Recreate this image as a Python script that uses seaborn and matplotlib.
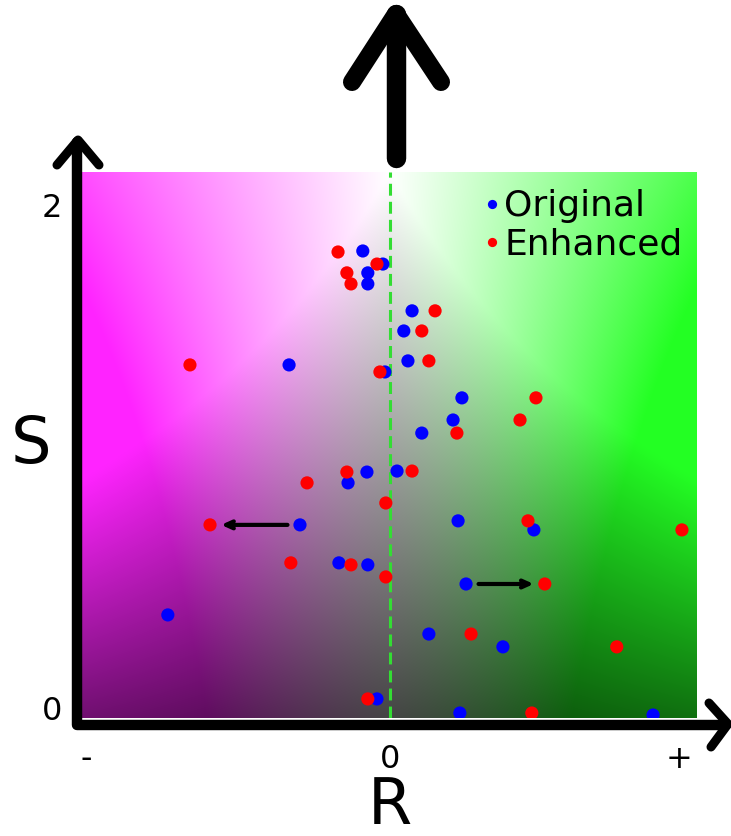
import numpy as np
import pandas as pd
import matplotlib
matplotlib.use("Agg")
import matplotlib.pyplot as plt
from matplotlib.colors import hsv_to_rgb
from matplotlib.lines import Line2D
import seaborn as sns

sns.set_style("white")
plt.rcParams['font.family'] = ['DejaVu Sans']
plt.rcParams['text.color'] = 'black'
plt.rcParams['axes.labelcolor'] = 'black'
plt.rcParams['xtick.color'] = 'black'
plt.rcParams['ytick.color'] = 'black'

# ---- data ----
orig_R = [-0.092, -0.024, -0.075, -0.075, -0.342, -0.017, 0.075, 0.047, 0.061, 0.244,
          0.214, 0.108, -0.078, 0.024, -0.142, -0.305, -0.173, -0.075, -0.753, -0.044,
          0.231, 0.488, 0.258, 0.132, 0.383, 0.237, 0.892]
orig_S = [1.817, 1.765, 1.730, 1.686, 1.364, 1.336, 1.579, 1.499, 1.380, 1.233,
          1.145, 1.093, 0.938, 0.942, 0.895, 0.728, 0.577, 0.569, 0.370, 0.036,
          0.744, 0.708, 0.493, 0.294, 0.243, -0.020, -0.028]
enh_R = [-0.176, -0.044, -0.146, -0.132, -0.678, -0.034, 0.153, 0.108, 0.132, 0.495,
         0.441, 0.227, -0.146, 0.075, -0.281, -0.014, -0.610, -0.336, -0.132, -0.014,
         -0.075, 0.468, 0.990, 0.525, 0.275, 0.769, 0.481]
enh_S = [1.813, 1.765, 1.730, 1.686, 1.364, 1.336, 1.579, 1.499, 1.380, 1.233,
         1.145, 1.093, 0.938, 0.942, 0.895, 0.815, 0.728, 0.577, 0.569, 0.521,
         0.036, 0.744, 0.708, 0.493, 0.294, 0.243, -0.020]
series_names = ["Original", "Enhanced"]
x_tick_pos = [-1.03, 0.0, 0.98]
x_tick_labels = ["-", "0", "+"]
y_tick_pos = [0, 2]
y_tick_labels = ["0", "2"]
# pairs highlighted by arrows: (index in original, index in enhanced)
arrow_pairs = [(15, 16), (22, 23)]

df = pd.DataFrame({
    "R": orig_R + enh_R,
    "S": orig_S + enh_S,
    "kind": [series_names[0]] * len(orig_R) + [series_names[1]] * len(enh_R),
})

W, H = 731, 836
fig = plt.figure(figsize=(W / 100, H / 100), dpi=100)
ax = fig.add_axes([82 / W, (H - 718) / H, (697 - 82) / W, (718 - 172) / H])
xlim = (-1.044, 1.041)
ylim = (-0.0398, 2.131)

# background gradient
nx, ny = 500, 500
X, Y = np.meshgrid(np.linspace(xlim[0], xlim[1], nx), np.linspace(ylim[0], ylim[1], ny))
t = np.where(X < 0, -X / -xlim[0], X / xlim[1])
v = (Y - ylim[0]) / (ylim[1] - ylim[0])
sat = np.clip(t * (1.45 - 0.75 * v), 0, 0.86)
val = np.clip((0.27 + 0.17 * t) + (0.73 + 0.55 * t) * v, 0, 1)
hue = np.where(X < 0, 300 / 360, 120 / 360)
rgb = hsv_to_rgb(np.dstack([hue, sat, val]))
ax.imshow(rgb, extent=[xlim[0], xlim[1], ylim[0], ylim[1]], origin="lower",
          aspect="auto", zorder=0, interpolation="bilinear")

ax.axvline(0, color="#33dd33", lw=2.2, ls=(0, (3.9, 2.0)), zorder=1)

sns.scatterplot(data=df, x="R", y="S", hue="kind",
                palette={"Original": "#0000ff", "Enhanced": "#ff0000"},
                s=90, linewidth=0, ax=ax, zorder=3, legend=True)

for bi, ri in arrow_pairs:
    ax.annotate("", xy=(enh_R[ri], enh_S[ri]), xytext=(orig_R[bi], orig_S[bi]),
                arrowprops=dict(arrowstyle="->,head_length=0.55,head_width=0.25",
                                lw=3.0, color="black", shrinkA=9, shrinkB=8),
                zorder=2)

ax.set_xlim(*xlim)
ax.set_ylim(*ylim)
for sp in ax.spines.values():
    sp.set_visible(False)

ax.set_xticks(x_tick_pos)
ax.set_xticklabels(x_tick_labels, fontsize=23)
ax.set_yticks(y_tick_pos)
ax.set_yticklabels(y_tick_labels, fontsize=23)
ax.tick_params(axis="x", length=0, pad=19)
ax.tick_params(axis="y", length=0, pad=14)
ax.set_xlabel("R", fontsize=46, labelpad=0)
ax.set_ylabel("S", fontsize=46, rotation=0, labelpad=8, va="center")

handles, labels = ax.get_legend_handles_labels()
leg = ax.legend(handles, labels, loc="upper right", frameon=False, fontsize=26,
                markerscale=0.7, handletextpad=-0.65, labelspacing=0.12,
                borderaxespad=0.0, bbox_to_anchor=(1.0, 0.995))


def fl(pts):
    return [p[0] / W for p in pts], [1 - p[1] / H for p in pts]


def draw(pts, lw):
    xs, ys = fl(pts)
    fig.add_artist(Line2D(xs, ys, color="black", lw=lw, solid_capstyle="round",
                          solid_joinstyle="round", transform=fig.transFigure))

# axis arrows
draw([(77, 142), (77, 725), (726, 725)], 7.5)
draw([(57, 165), (78, 140), (99, 165)], 6.5)
draw([(709, 703), (728, 724), (711, 747)], 6.5)
# big upward arrow
draw([(396, 158), (396, 14)], 14)
draw([(352, 82), (396, 14), (441, 82)], 13)

fig.savefig("out.png", dpi=100)
